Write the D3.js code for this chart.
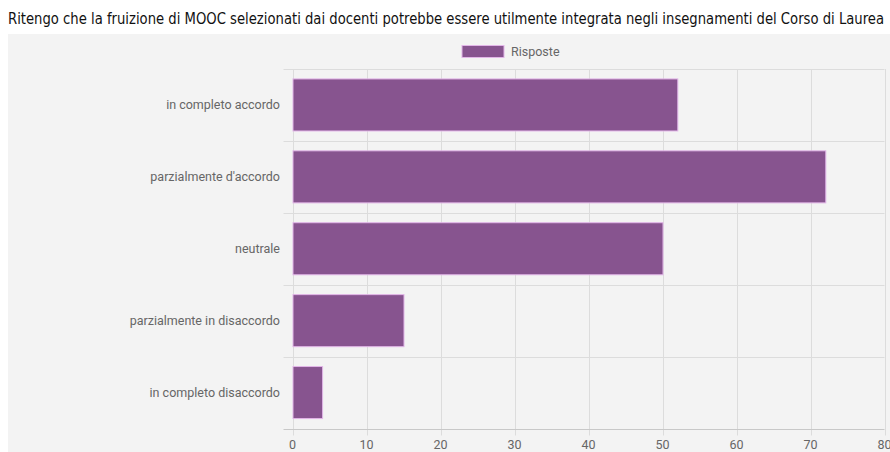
<!DOCTYPE html>
<html>
<head>
<meta charset="utf-8">
<script src="https://cdn.jsdelivr.net/npm/d3@7"></script>
<style>
  html, body { margin: 0; padding: 0; background: #ffffff; }
  svg { display: block; }
</style>
</head>
<body>
<svg id="chart" width="890" height="452"></svg>
<script>
// Survey answers: how useful would teacher-selected MOOCs be in the degree courses
const title = "Ritengo che la fruizione di MOOC selezionati dai docenti potrebbe essere utilmente integrata negli insegnamenti del Corso di Laurea";
const categories = [
  "in completo accordo",
  "parzialmente d'accordo",
  "neutrale",
  "parzialmente in disaccordo",
  "in completo disaccordo"
];
const values = [52, 72, 50, 15, 4];
const seriesName = "Risposte";
const xTicks = [0, 10, 20, 30, 40, 50, 60, 70, 80];

const W = 890, H = 452;
const margin = { left: 292.5, top: 69 };
const svg = d3.select("#chart");

// panel background
svg.append("rect")
  .attr("x", 8).attr("y", 34)
  .attr("width", W - 8).attr("height", H - 34)
  .attr("fill", "#f3f3f3");

// title
svg.append("text")
  .attr("x", 8).attr("y", 24)
  .attr("font-family", "'Liberation Sans Narrow', 'DejaVu Sans Condensed', 'Open Sans', sans-serif")
  .attr("font-size", 15)
  .attr("fill", "#111")
  .attr("textLength", 876)
  .attr("lengthAdjust", "spacingAndGlyphs")
  .text(title);

const x = d3.scaleLinear().domain([0, 80]).range([margin.left, 884.5]);
const y = d3.scaleBand().domain(categories).range([margin.top, 428.5])
  .paddingInner(0.276).paddingOuter(0.138);

const gridColor = "#dcdcdc";
const step = y.step();

// vertical grid lines
svg.append("g").selectAll("line").data(xTicks).join("line")
  .attr("x1", d => Math.round(x(d)) + 0.5).attr("x2", d => Math.round(x(d)) + 0.5)
  .attr("y1", margin.top).attr("y2", 428.5 + 7)
  .attr("stroke", gridColor).attr("stroke-width", 1);

// horizontal band separators (with short outer ticks)
const sepYs = d3.range(categories.length + 1).map(i => margin.top + i * step);
svg.append("g").selectAll("line").data(sepYs).join("line")
  .attr("x1", margin.left - 9).attr("x2", x(80))
  .attr("y1", d => Math.round(d) + 0.5).attr("y2", d => Math.round(d) + 0.5)
  .attr("stroke", (d, i) => i === categories.length ? "#c8c8c8" : gridColor)
  .attr("stroke-width", 1);

// bars
svg.append("g").selectAll("rect").data(values).join("rect")
  .attr("x", x(0) + 0.5)
  .attr("y", (d, i) => y(categories[i]))
  .attr("width", d => x(d) - x(0))
  .attr("height", y.bandwidth())
  .attr("fill", "#87548f")
  .attr("stroke", "#e2b6e8")
  .attr("stroke-width", 1);

// category labels
svg.append("g").selectAll("text").data(categories).join("text")
  .attr("x", 280)
  .attr("y", d => y(d) + y.bandwidth() / 2)
  .attr("dy", "0.35em")
  .attr("text-anchor", "end")
  .attr("font-family", "Roboto, 'Liberation Sans', sans-serif")
  .attr("font-size", 12.5)
  .attr("fill", "#666")
  .text(d => d);

// x tick labels
svg.append("g").selectAll("text").data(xTicks).join("text")
  .attr("x", d => x(d))
  .attr("y", 445)
  .attr("dy", "0.35em")
  .attr("text-anchor", "middle")
  .attr("font-family", "Roboto, 'Liberation Sans', sans-serif")
  .attr("font-size", 12.5)
  .attr("fill", "#666")
  .text(d => d);

// legend
svg.append("rect")
  .attr("x", 462).attr("y", 45.5).attr("width", 42).attr("height", 12)
  .attr("fill", "#87548f").attr("stroke", "#e2b6e8").attr("stroke-width", 1);
svg.append("text")
  .attr("x", 511).attr("y", 51.5).attr("dy", "0.35em")
  .attr("font-family", "Roboto, 'Liberation Sans', sans-serif")
  .attr("font-size", 12.5)
  .attr("fill", "#666")
  .text(seriesName);
</script>
</body>
</html>
